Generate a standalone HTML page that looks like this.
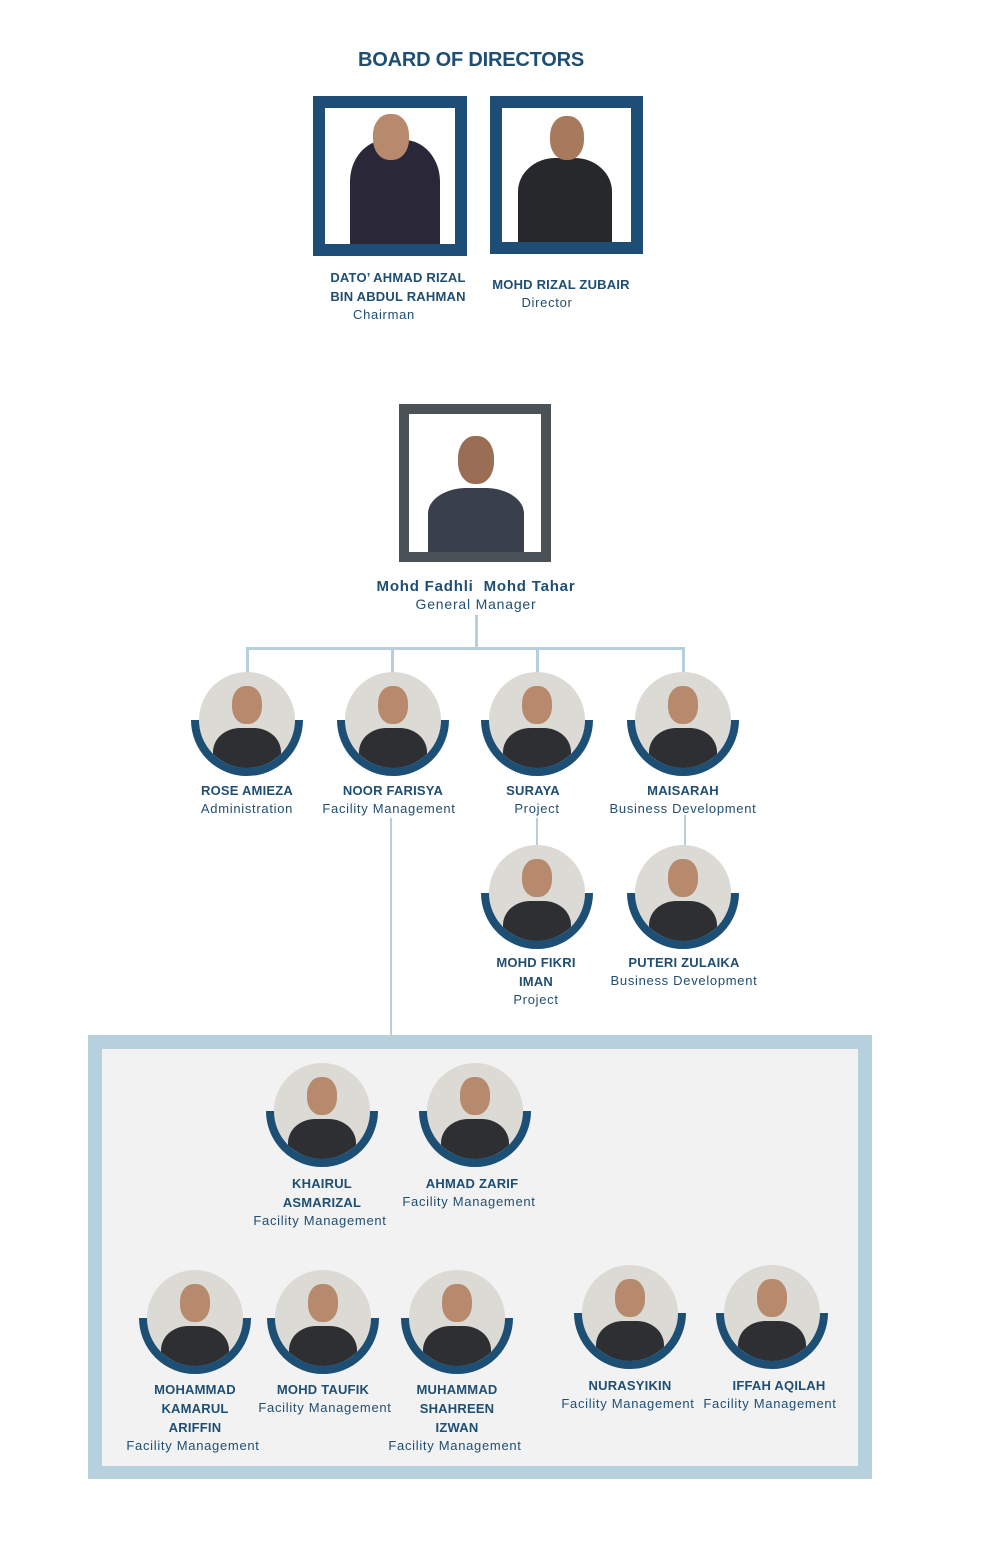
<!DOCTYPE html>
<html><head><meta charset="utf-8"><style>
*{margin:0;padding:0;box-sizing:border-box}
body{width:1000px;height:1567px;background:#fff;position:relative;font-family:"Liberation Sans",sans-serif;color:#1f4e73;overflow:hidden}
.a{position:absolute}
.t{position:absolute;font-weight:bold;font-size:20px;color:#1f4e73}
.frame{position:absolute;background:#fff}
.ln{position:absolute;background:#b5cfdc}
.p{position:absolute;width:112px;height:112px}
.p .ph{position:absolute;left:8px;top:8px;width:96px;height:96px;border-radius:50%;background:#dcdad5;overflow:hidden}
.p .ph:before{content:"";position:absolute;left:33px;top:14px;width:30px;height:38px;border-radius:45%;background:#b88a6d}
.p .ph:after{content:"";position:absolute;left:14px;top:56px;width:68px;height:60px;border-radius:40% 40% 0 0;background:#2e2f33}
.p .rg{position:absolute;left:0;top:56px;width:112px;height:56px;overflow:hidden}
.p .rg div{position:absolute;left:0;top:-56px;width:112px;height:112px;border-radius:50%;border:8px solid #1d4f75}
.l{position:absolute;width:200px;text-align:center;font-size:13px}
.l b{display:block;line-height:19px;font-size:13px;letter-spacing:0.2px}
.l span{display:block;line-height:17px;letter-spacing:0.7px}
</style></head><body>
<div class="t" style="left:358px;top:49px;letter-spacing:-0.2px">BOARD OF DIRECTORS</div>
<div class="frame" style="left:313px;top:96px;width:154px;height:160px;border:12px solid #1e4d76"></div>
<div class="a" style="left:350px;top:140px;width:90px;height:104px;background:#2a2838;border-radius:40% 40% 0 0"></div>
<div class="a" style="left:373px;top:114px;width:36px;height:46px;background:#b88a6d;border-radius:45%"></div>
<div class="frame" style="left:490px;top:96px;width:153px;height:158px;border:12px solid #1e4d76"></div>
<div class="a" style="left:518px;top:158px;width:94px;height:84px;background:#27282c;border-radius:40% 40% 0 0"></div>
<div class="a" style="left:550px;top:116px;width:34px;height:44px;background:#a87a5d;border-radius:45%"></div>
<div class="l" style="left:298px;top:268px"><b>DATO’ AHMAD RIZAL</b><b>BIN ABDUL RAHMAN</b><span style="margin-left:-28px">Chairman</span></div>
<div class="l" style="left:461px;top:275px"><b>MOHD RIZAL ZUBAIR</b><span style="margin-left:-28px">Director</span></div>

<div class="frame" style="left:399px;top:404px;width:152px;height:158px;border:10px solid #4a5157"></div>
<div class="a" style="left:428px;top:488px;width:96px;height:64px;background:#3a3f4c;border-radius:40% 40% 0 0"></div>
<div class="a" style="left:458px;top:436px;width:36px;height:48px;background:#9a6e55;border-radius:45%"></div>
<div class="l" style="left:366px;top:578px;width:220px;font-size:15px"><b style="font-size:15px;line-height:18px;letter-spacing:0.8px">Mohd Fadhli&nbsp; Mohd Tahar</b><span style="font-size:14px;letter-spacing:0.8px">General Manager</span></div>

<div class="ln" style="left:475px;top:615px;width:3px;height:34px"></div>
<div class="ln" style="left:246px;top:647px;width:439px;height:3px"></div>
<div class="ln" style="left:246px;top:647px;width:3px;height:25px"></div>
<div class="ln" style="left:391px;top:647px;width:3px;height:25px"></div>
<div class="ln" style="left:536px;top:647px;width:3px;height:25px"></div>
<div class="ln" style="left:682px;top:647px;width:3px;height:25px"></div>
<div class="ln" style="left:536px;top:818px;width:2px;height:28px"></div>
<div class="ln" style="left:684px;top:815px;width:2px;height:30px"></div>
<div class="ln" style="left:390px;top:818px;width:2px;height:218px"></div>

<div class="p" style="left:191px;top:664px"><div class="ph"></div><div class="rg"><div></div></div></div>
<div class="p" style="left:337px;top:664px"><div class="ph"></div><div class="rg"><div></div></div></div>
<div class="p" style="left:481px;top:664px"><div class="ph"></div><div class="rg"><div></div></div></div>
<div class="p" style="left:627px;top:664px"><div class="ph"></div><div class="rg"><div></div></div></div>
<div class="l" style="left:147px;top:781px"><b>ROSE AMIEZA</b><span>Administration</span></div>
<div class="l" style="left:293px;top:781px"><b>NOOR FARISYA</b><span style="margin-left:-8px">Facility Management</span></div>
<div class="l" style="left:433px;top:781px"><b>SURAYA</b><span style="margin-left:8px">Project</span></div>
<div class="l" style="left:583px;top:781px"><b>MAISARAH</b><span>Business Development</span></div>

<div class="p" style="left:481px;top:837px"><div class="ph"></div><div class="rg"><div></div></div></div>
<div class="p" style="left:627px;top:837px"><div class="ph"></div><div class="rg"><div></div></div></div>
<div class="l" style="left:436px;top:953px"><b>MOHD FIKRI</b><b>IMAN</b><span>Project</span></div>
<div class="l" style="left:584px;top:953px"><b>PUTERI ZULAIKA</b><span>Business Development</span></div>

<div class="a" style="left:88px;top:1035px;width:784px;height:444px;background:#f2f2f2;border:14px solid #b7d0dd;border-bottom-width:13px"></div>

<div class="p" style="left:266px;top:1055px"><div class="ph"></div><div class="rg"><div></div></div></div>
<div class="p" style="left:419px;top:1055px"><div class="ph"></div><div class="rg"><div></div></div></div>
<div class="l" style="left:222px;top:1174px"><b>KHAIRUL</b><b>ASMARIZAL</b><span style="margin-left:-4px">Facility Management</span></div>
<div class="l" style="left:372px;top:1174px"><b>AHMAD ZARIF</b><span style="margin-left:-6px">Facility Management</span></div>

<div class="p" style="left:139px;top:1262px"><div class="ph"></div><div class="rg"><div></div></div></div>
<div class="p" style="left:267px;top:1262px"><div class="ph"></div><div class="rg"><div></div></div></div>
<div class="p" style="left:401px;top:1262px"><div class="ph"></div><div class="rg"><div></div></div></div>
<div class="p" style="left:574px;top:1257px"><div class="ph"></div><div class="rg"><div></div></div></div>
<div class="p" style="left:716px;top:1257px"><div class="ph"></div><div class="rg"><div></div></div></div>
<div class="l" style="left:95px;top:1380px"><b>MOHAMMAD</b><b>KAMARUL</b><b>ARIFFIN</b><span style="margin-left:-4px">Facility Management</span></div>
<div class="l" style="left:223px;top:1380px"><b>MOHD TAUFIK</b><span style="margin-left:4px">Facility Management</span></div>
<div class="l" style="left:357px;top:1380px"><b>MUHAMMAD</b><b>SHAHREEN</b><b>IZWAN</b><span style="margin-left:-4px">Facility Management</span></div>
<div class="l" style="left:530px;top:1376px"><b>NURASYIKIN</b><span style="margin-left:-4px">Facility Management</span></div>
<div class="l" style="left:679px;top:1376px"><b>IFFAH AQILAH</b><span style="margin-left:-18px">Facility Management</span></div>
</body></html>
